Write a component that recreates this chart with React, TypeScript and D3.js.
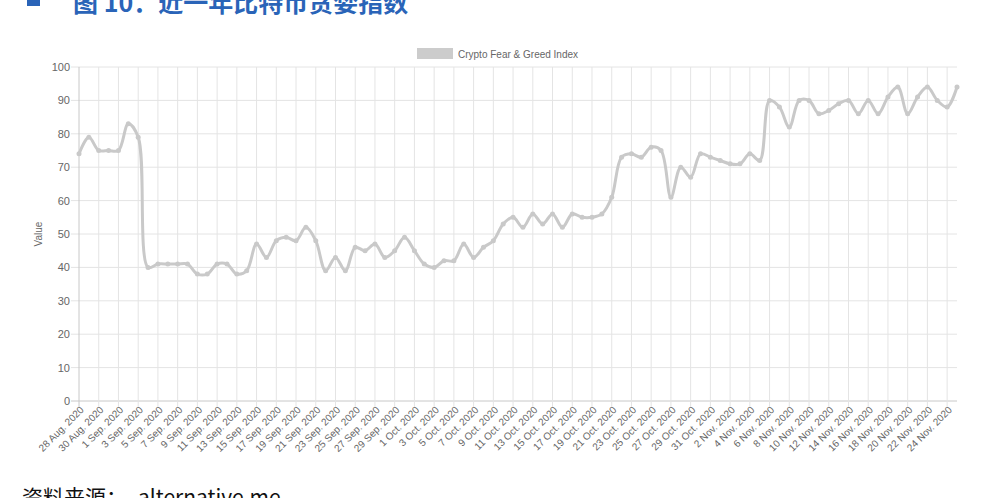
import React from "react";
import * as d3 from "d3";

const startDate = new Date(2020, 7, 28);
const values: number[] = [
  74, 79, 75, 75, 75, 83, 79, 40, 41, 41,
  41, 41, 38, 38, 41, 41, 38, 39, 47, 43,
  48, 49, 48, 52, 48, 39, 43, 39, 46, 45,
  47, 43, 45, 49, 45, 41, 40, 42, 42, 47,
  43, 46, 48, 53, 55, 52, 56, 53, 56, 52,
  56, 55, 55, 56, 61, 73, 74, 73, 76, 75,
  61, 70, 67, 74, 73, 72, 71, 71, 74, 72,
  90, 88, 82, 90, 90, 86, 87, 89, 90, 86,
  90, 86, 91, 94, 86, 91, 94, 90, 88, 94,
];
const monthNames = ["Jan", "Feb", "Mar", "Apr", "May", "Jun", "Jul", "Aug", "Sep", "Oct", "Nov", "Dec"];
const dates: Date[] = values.map((_, i) => d3.timeDay.offset(startDate, i));
const categories: string[] = dates.map((d) => `${d.getDate()} ${monthNames[d.getMonth()]}. ${d.getFullYear()}`);
const yTicks = [0, 10, 20, 30, 40, 50, 60, 70, 80, 90, 100];
const seriesName = "Crypto Fear & Greed Index";
const titleText = "图 10：近一年比特币贪婪指数";
const sourceLabel = "资料来源：";
const sourceName = "alternative.me";

const W = 992;
const H = 498;
const left = 79;
const right = 957;
const top = 67;
const bottom = 401;
const grid = "#e4e4e4";
const lineColor = "#c9c9c9";
const textColor = "#666";
const font = "'Liberation Sans', Arial, Helvetica, sans-serif";

export default function App() {
  const x = d3.scaleLinear().domain([0, values.length - 1]).range([left, right]);
  const y = d3.scaleLinear().domain([0, 100]).range([bottom, top]);
  const line = d3
    .line<number>()
    .x((_, i) => x(i))
    .y((v) => y(v))
    .curve(d3.curveCatmullRom.alpha(0.5));
  const labelIdx = categories.map((_, i) => i).filter((i) => i % 2 === 0);

  return (
    <svg width={W} height={H} style={{ position: "absolute", left: 0, top: 0, background: "#fff" }}>
      <rect x={0} y={0} width={W} height={H} fill="#fff" />
      {/* title (cropped at top) */}
      <rect x={27} y={-7} width={13} height={13} fill="#2a64b8" />
      <text x={73} y={12} fontSize={25} fontWeight="bold" fill="#2a64b8" fontFamily="'Noto Sans CJK SC', sans-serif">
        {titleText}
      </text>

      {/* legend */}
      <rect x={417} y={48} width={36} height={11} fill="#cccccc" />
      <text x={458} y={54} fontSize={10} fill={textColor} fontFamily={font} dominantBaseline="central">
        {seriesName}
      </text>

      {/* horizontal grid */}
      {yTicks.map((t) => (
        <g key={"y" + t}>
          <line x1={left - 8} x2={right} y1={y(t)} y2={y(t)} stroke={t === 0 ? "#c8c8c8" : grid} strokeWidth={1} />
          <text x={70} y={y(t)} fontSize={11} fill={textColor} fontFamily={font} textAnchor="end" dominantBaseline="central">
            {t}
          </text>
        </g>
      ))}
      {/* vertical grid */}
      {labelIdx.map((i) => (
        <line key={"x" + i} x1={x(i)} x2={x(i)} y1={top} y2={bottom + 6} stroke={i === 0 ? "#c8c8c8" : grid} strokeWidth={1} />
      ))}
      {/* x labels */}
      {labelIdx.map((i) => (
        <text
          key={"xl" + i}
          transform={`translate(${x(i) + 3},${bottom + 7}) rotate(-45)`}
          fontSize={10}
          fill={textColor}
          fontFamily={font}
          textAnchor="end"
          dominantBaseline="central"
        >
          {categories[i]}
        </text>
      ))}

      {/* y axis title */}
      <text
        transform={`translate(42,${(top + bottom) / 2}) rotate(-90)`}
        fontSize={10}
        fill={textColor}
        fontFamily={font}
        textAnchor="middle"
      >
        Value
      </text>

      {/* series */}
      <path d={line(values) || ""} fill="none" stroke={lineColor} strokeWidth={3} />
      {values.map((v, i) => (
        <circle key={"p" + i} cx={x(i)} cy={y(v)} r={2.5} fill={lineColor} />
      ))}

      {/* source (cropped at bottom) */}
      <text x={22} y={505} fontSize={21} fill="#111" fontFamily="'Noto Sans CJK SC', sans-serif">
        {sourceLabel}
      </text>
      <text x={138} y={505} fontSize={21} fill="#111" fontFamily="'Noto Sans CJK SC', sans-serif">
        {sourceName}
      </text>
    </svg>
  );
}
